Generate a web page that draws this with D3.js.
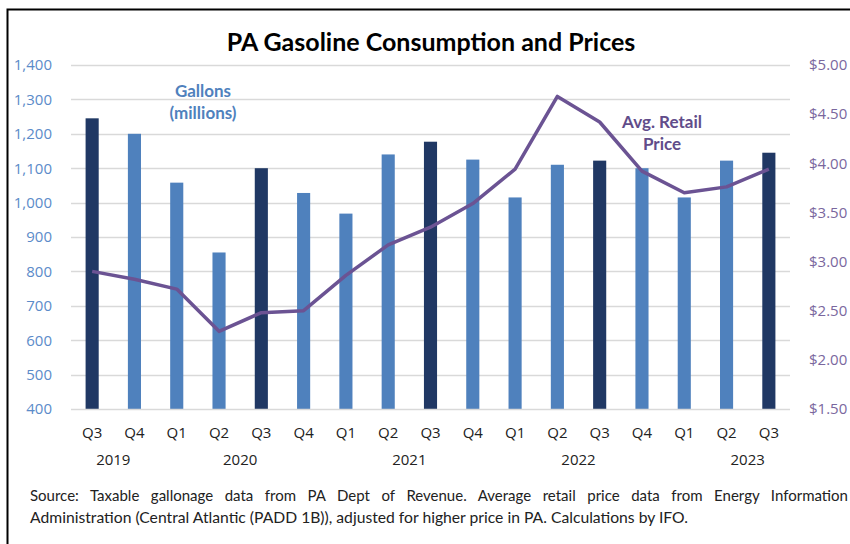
<!DOCTYPE html>
<html>
<head>
<meta charset="utf-8">
<script src="https://cdn.jsdelivr.net/npm/d3@7"></script>
<style>
  html, body { margin: 0; padding: 0; background: #fff; }
  svg { display: block; }
</style>
</head>
<body>
<svg id="chart" width="850" height="544"></svg>
<script>
// ---- data ----
const quarters = ["Q3","Q4","Q1","Q2","Q3","Q4","Q1","Q2","Q3","Q4","Q1","Q2","Q3","Q4","Q1","Q2","Q3"];
const gallons  = [1245,1200,1058,855,1100,1028,968,1140,1177,1125,1015,1110,1122,1100,1015,1122,1145];
const prices   = [2.90,2.82,2.72,2.29,2.48,2.50,2.86,3.17,3.35,3.59,3.94,4.68,4.42,3.92,3.70,3.76,3.94];
const highlight = [true,false,false,false,true,false,false,false,true,false,false,false,true,false,false,false,true];
const years = ["2019","2020","2021","2022","2023"];
const yearFrom = [0,2,6,10,15];
const yearTo   = [1,5,9,13,16];
const leftTicks  = [400,500,600,700,800,900,1000,1100,1200,1300,1400];
const rightTicks = [1.5,2.0,2.5,3.0,3.5,4.0,4.5,5.0];
const title = "PA Gasoline Consumption and Prices";
const sourceLine1 = "Source: Taxable gallonage data from PA Dept of Revenue. Average retail price data from Energy Information";
const sourceLine2 = "Administration (Central Atlantic (PADD 1B)), adjusted for higher price in PA. Calculations by IFO.";

// ---- layout ----
const svg = d3.select("#chart");
const L = 71, R = 790, T = 65, B = 409;
const idx = d3.range(quarters.length);
const x = d3.scaleBand().domain(idx).range([L, R]).paddingInner(0.69).paddingOuter(0.345);
const xc = i => x(i) + x.bandwidth() / 2;
const yL = d3.scaleLinear().domain([400, 1400]).range([B, T]);
const yR = d3.scaleLinear().domain([1.5, 5.0]).range([B, T]);

const FONT = "Lato, 'Open Sans', sans-serif";
const TICKFONT = "'Open Sans', sans-serif";

// frame
svg.append("path").attr("d", "M7.5,544 V9.5 H850").attr("fill", "none").attr("stroke", "#000").attr("stroke-width", 2);

// title
svg.append("text").attr("x", 431).attr("y", 51).attr("text-anchor", "middle")
  .attr("font-family", FONT).attr("font-weight", "bold").attr("font-size", 25).attr("fill", "#000")
  .text(title);

// gridlines
svg.append("g").selectAll("line").data(leftTicks.slice(1)).join("line")
  .attr("x1", L).attr("x2", R).attr("y1", d => Math.round(yL(d)) + 0.5).attr("y2", d => Math.round(yL(d)) + 0.5)
  .attr("stroke", "#d9d9d9").attr("stroke-width", 1.5);

// left axis
const gL = svg.append("g").attr("transform", `translate(${L},0)`)
  .call(d3.axisLeft(yL).tickValues(leftTicks).tickFormat(d3.format(",")).tickSize(0).tickPadding(19));
gL.select(".domain").remove();
gL.selectAll("text").attr("font-family", TICKFONT).attr("font-size", 15).attr("fill", "#5b8bc9");

// right axis
const gR = svg.append("g").attr("transform", `translate(${R},0)`)
  .call(d3.axisRight(yR).tickValues(rightTicks).tickFormat(d => "$" + d.toFixed(2)).tickSize(0).tickPadding(19));
gR.select(".domain").remove();
gR.selectAll("text").attr("font-family", TICKFONT).attr("font-size", 15).attr("fill", "#7a679e");

// bars
svg.append("g").selectAll("rect").data(idx).join("rect")
  .attr("x", i => x(i)).attr("width", x.bandwidth())
  .attr("y", i => yL(gallons[i])).attr("height", i => yL(400) - yL(gallons[i]))
  .attr("fill", i => highlight[i] ? "#203864" : "#4f81bd");

// x axis line
svg.append("line").attr("x1", L).attr("x2", R).attr("y1", B + 0.5).attr("y2", B + 0.5)
  .attr("stroke", "#d9d9d9").attr("stroke-width", 1.5);

// quarter labels
const gX = svg.append("g").attr("transform", `translate(0,${B})`)
  .call(d3.axisBottom(x).tickFormat(i => quarters[i]).tickSize(0).tickPadding(18));
gX.select(".domain").remove();
gX.selectAll("text").attr("font-family", TICKFONT).attr("font-size", 15).attr("fill", "#222");

// year labels
svg.append("g").selectAll("text").data(years).join("text")
  .attr("x", (d, k) => (xc(yearFrom[k]) + xc(yearTo[k])) / 2)
  .attr("y", 465).attr("text-anchor", "middle")
  .attr("font-family", TICKFONT).attr("font-size", 15).attr("fill", "#222")
  .text(d => d);

// price line
const line = d3.line().x((d, i) => xc(i)).y(d => yR(d));
svg.append("path").datum(prices).attr("d", line)
  .attr("fill", "none").attr("stroke", "#6b5393").attr("stroke-width", 3.5)
  .attr("stroke-linejoin", "round");

// annotations
const ann1 = svg.append("text").attr("text-anchor", "middle").attr("font-family", FONT)
  .attr("font-weight", "bold").attr("font-size", 17).attr("fill", "#4f81bd");
ann1.append("tspan").attr("x", 203).attr("y", 97).text("Gallons");
ann1.append("tspan").attr("x", 203).attr("y", 119).text("(millions)");

const ann2 = svg.append("text").attr("text-anchor", "middle").attr("font-family", FONT)
  .attr("font-weight", "bold").attr("font-size", 17).attr("fill", "#614c8a");
ann2.append("tspan").attr("x", 662).attr("y", 128).text("Avg. Retail");
ann2.append("tspan").attr("x", 662).attr("y", 150).text("Price");

// footer (line 1 justified)
const f1 = svg.append("text").attr("x", 30).attr("y", 501)
  .attr("font-family", FONT).attr("font-size", 15).attr("fill", "#222").text(sourceLine1);
const w1 = f1.node().getComputedTextLength();
const spaces = (sourceLine1.match(/ /g) || []).length;
f1.attr("word-spacing", Math.max(0, (818 - w1) / spaces));
const f2 = svg.append("text").attr("x", 30).attr("y", 523)
  .attr("font-family", FONT).attr("font-size", 15).attr("fill", "#222").text(sourceLine2);
f2.attr("textLength", 658).attr("lengthAdjust", "spacingAndGlyphs");
</script>
</body>
</html>
